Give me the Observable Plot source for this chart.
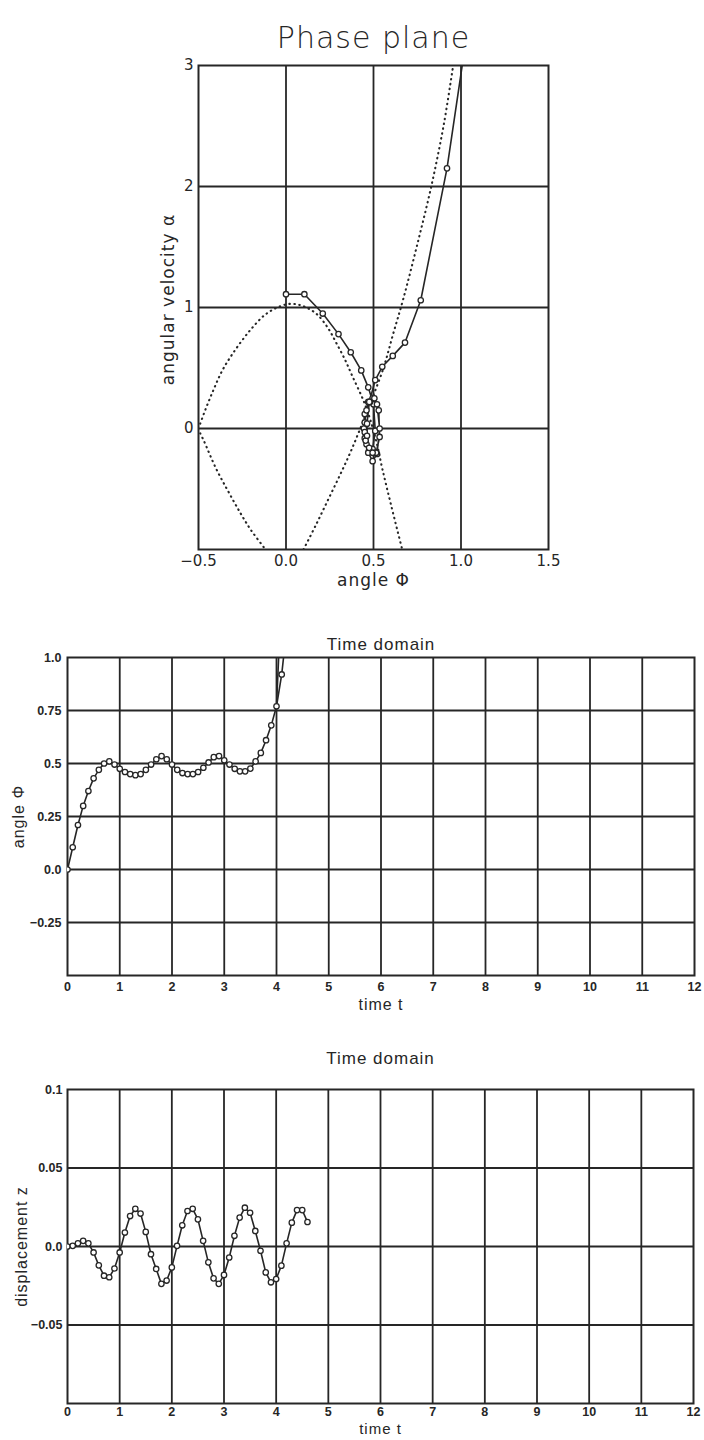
<!DOCTYPE html>
<html><head><meta charset="utf-8">
<script src="https://cdn.jsdelivr.net/npm/d3@7"></script>
<script src="https://cdn.jsdelivr.net/npm/@observablehq/plot@0.6"></script>
<style>
html,body{margin:0;padding:0;background:#fff;}
#page{position:relative;width:704px;height:1440px;overflow:hidden;background:#fff;}
.panel{position:absolute;left:0;}
svg g[aria-label="text"] text{letter-spacing:1px;}
</style></head><body><div id="page"></div>
<script>
// ---------- Phase plane ----------
const phaseXTicks = [-0.5, 0, 0.5, 1, 1.5];
const phaseXLabels = ["\u22120.5", "0.0", "0.5", "1.0", "1.5"];
const phaseYTicks = [0, 1, 2, 3];
const phaseYLabels = ["0", "1", "2", "3"];

// dotted curves
const sepAPhi   = [-0.49,-0.47,-0.42,-0.36,-0.28,-0.2,-0.12,-0.05,0.02,0.08,0.13,0.18,0.24,0.29,0.34,0.38,0.44,0.48,0.52,0.55,0.6,0.664];
const sepAAlpha = [0.04,0.12,0.3,0.49,0.67,0.82,0.94,1.0,1.03,1.02,0.99,0.94,0.83,0.7,0.56,0.43,0.24,0.08,-0.13,-0.33,-0.63,-1.0];
const sepBPhi   = [-0.49,-0.47,-0.4,-0.33,-0.26,-0.2,-0.117];
const sepBAlpha = [-0.04,-0.1,-0.33,-0.52,-0.7,-0.84,-1.0];
const sepCPhi   = [0.1,0.17,0.24,0.31,0.37,0.43,0.49,0.557,0.61,0.67,0.75,0.83,0.9,0.95,0.96];
const sepCAlpha = [-1.0,-0.8,-0.59,-0.38,-0.19,0.02,0.24,0.5,0.77,1.07,1.52,2.0,2.5,2.95,3.05];

// ---------- Time domain: angle ----------
const timeA = [0,0.1,0.2,0.3,0.4,0.5,0.6,0.7,0.8,0.9,1.0,1.1,1.2,1.3,1.4,1.5,1.6,1.7,1.8,1.9,2.0,2.1,2.2,2.3,2.4,2.5,2.6,2.7,2.8,2.9,3.0,3.1,3.2,3.3,3.4,3.5,3.6,3.7,3.8,3.9,4.0,4.1,4.2];
const phi   = [0,0.105,0.21,0.30,0.37,0.43,0.47,0.50,0.51,0.495,0.475,0.46,0.45,0.445,0.45,0.47,0.495,0.52,0.535,0.52,0.495,0.47,0.455,0.45,0.45,0.46,0.48,0.505,0.53,0.535,0.515,0.495,0.475,0.463,0.463,0.476,0.51,0.55,0.61,0.68,0.77,0.92,1.15];
const alpha = [1.11,1.11,0.95,0.78,0.63,0.48,0.34,0.2,-0.02,-0.17,-0.18,-0.13,-0.08,0.0,0.12,0.22,0.25,0.2,0.0,-0.21,-0.27,-0.2,-0.1,-0.03,0.05,0.15,0.22,0.25,0.15,-0.07,-0.2,-0.2,-0.16,-0.06,0.04,0.22,0.4,0.51,0.6,0.71,1.06,2.15,4.4];
const branchT   = [4.0, 4.05];
const branchPhi = [0.77, 1.05];

const timeXTicks = [0,1,2,3,4,5,6,7,8,9,10,11,12];
const angleYTicks = [-0.25, 0, 0.25, 0.5, 0.75, 1.0];
const angleYLabels = ["\u22120.25", "0.0", "0.25", "0.5", "0.75", "1.0"];

// ---------- Time domain: displacement ----------
const timeZ = [0,0.1,0.2,0.3,0.4,0.5,0.6,0.7,0.8,0.9,1.0,1.1,1.2,1.3,1.4,1.5,1.6,1.7,1.8,1.9,2.0,2.1,2.2,2.3,2.4,2.5,2.6,2.7,2.8,2.9,3.0,3.1,3.2,3.3,3.4,3.5,3.6,3.7,3.8,3.9,4.0,4.1,4.2,4.3,4.4,4.5,4.6];
const zVals = [0,0.0004,0.002,0.0036,0.002,-0.0038,-0.012,-0.0186,-0.0196,-0.014,-0.0038,0.0089,0.0194,0.024,0.021,0.0093,-0.0049,-0.0143,-0.0238,-0.0217,-0.0133,0.0004,0.0135,0.0226,0.024,0.0173,0.0036,-0.0101,-0.0203,-0.0238,-0.0181,-0.007,0.0068,0.0184,0.0247,0.0215,0.0099,-0.0027,-0.0165,-0.0228,-0.0207,-0.0122,0.002,0.0152,0.0232,0.0232,0.0156];
const dispYTicks = [-0.05, 0, 0.05, 0.1];
const dispYLabels = ["\u22120.05", "0.0", "0.05", "0.1"];

// ---------- build tables ----------
const zip2 = (a, b) => a.map((v, i) => ({x: v, y: b[i]}));
const sepA = zip2(sepAPhi, sepAAlpha);
const sepB = zip2(sepBPhi, sepBAlpha);
const sepC = zip2(sepCPhi, sepCAlpha);
const traj = zip2(phi, alpha);
const angleSeries = zip2(timeA, phi);
const branch = zip2(branchT, branchPhi);
const dispSeries = zip2(timeZ, zVals);
const fmtMap = (ticks, labels) => { const m = new Map(ticks.map((t, i) => [t, labels[i]])); return d => m.get(d); };

const ink = "#262626";
const gridOpt = {stroke: ink, strokeOpacity: 1, strokeWidth: 1.8};
const dotted = {x: "x", y: "y", stroke: ink, strokeWidth: 2.1, strokeDasharray: "0.5 4.5", strokeLinecap: "round", curve: "catmull-rom", clip: true};
const solid = {x: "x", y: "y", stroke: ink, strokeWidth: 1.6, clip: true};
const markers = {x: "x", y: "y", r: 2.7, fill: "white", stroke: ink, strokeWidth: 1.3, clip: true};

const page = document.getElementById("page");
function place(svg, top) {
  const d = document.createElement("div");
  d.className = "panel"; d.style.top = top + "px";
  d.appendChild(svg); page.appendChild(d);
}

// Chart 1
const p1 = Plot.plot({
  width: 704, height: 600,
  marginTop: 65, marginBottom: 51, marginLeft: 198, marginRight: 156,
  x: {domain: [-0.5, 1.5], label: null},
  y: {domain: [-1, 3], label: null},
  style: {fontFamily: "DejaVu Sans", fontSize: "15px", color: ink, background: "transparent"},
  marks: [
    Plot.gridX([0, 0.5, 1], gridOpt),
    Plot.gridY([0, 1, 2], gridOpt),
    Plot.frame({stroke: ink, strokeWidth: 2}),
    Plot.line(sepA, dotted),
    Plot.line(sepB, dotted),
    Plot.line(sepC, dotted),
    Plot.line(traj, solid),
    Plot.dot(traj, markers),
    Plot.axisX(phaseXTicks, {tickSize: 0, tickPadding: 6, tickFormat: fmtMap(phaseXTicks, phaseXLabels), label: null, fill: ink}),
    Plot.axisY(phaseYTicks, {tickSize: 0, tickPadding: 5, tickFormat: fmtMap(phaseYTicks, phaseYLabels), label: null, fill: ink}),
    Plot.text(["Phase plane"], {text: d => d, frameAnchor: "top", dy: -39, fontSize: 30, fontWeight: 300, fill: ink}),
    Plot.text(["angle \u03A6"], {text: d => d, frameAnchor: "bottom", dy: 36, fontSize: 17, fill: ink}),
    Plot.text(["angular velocity \u03B1"], {text: d => d, frameAnchor: "left", dx: -30, dy: -8, rotate: -90, textAnchor: "middle", fontSize: 17, fill: ink})
  ]
});
place(p1, 0);

// Chart 2
const p2 = Plot.plot({
  width: 704, height: 400,
  marginTop: 37, marginBottom: 45, marginLeft: 67, marginRight: 10,
  x: {domain: [0, 12], label: null},
  y: {domain: [-0.5, 1], label: null},
  style: {fontFamily: "Liberation Sans", fontSize: "12.5px", fontWeight: "bold", color: ink, background: "transparent"},
  marks: [
    Plot.gridX([1,2,3,4,5,6,7,8,9,10,11], gridOpt),
    Plot.gridY([-0.25, 0, 0.25, 0.5, 0.75], gridOpt),
    Plot.frame({stroke: ink, strokeWidth: 2}),
    Plot.line(branch, solid),
    Plot.line(angleSeries, solid),
    Plot.dot(angleSeries, markers),
    Plot.axisX(timeXTicks, {tickSize: 0, tickPadding: 7, tickFormat: d => String(d), label: null, fill: ink}),
    Plot.axisY(angleYTicks, {tickSize: 0, tickPadding: 6, tickFormat: fmtMap(angleYTicks, angleYLabels), label: null, fill: ink}),
    Plot.text(["Time domain"], {text: d => d, frameAnchor: "top", dy: -20, fontSize: 17, fontWeight: "normal", fill: ink}),
    Plot.text(["time t"], {text: d => d, frameAnchor: "bottom", dy: 34, fontSize: 16, fontWeight: "normal", fill: ink}),
    Plot.text(["angle \u03A6"], {text: d => d, frameAnchor: "left", dx: -49, rotate: -90, textAnchor: "middle", fontSize: 16, fontWeight: "normal", fill: ink})
  ]
});
place(p2, 620);

// Chart 3
const p3 = Plot.plot({
  width: 704, height: 400,
  marginTop: 49, marginBottom: 37, marginLeft: 67, marginRight: 11,
  x: {domain: [0, 12], label: null},
  y: {domain: [-0.1, 0.1], label: null},
  style: {fontFamily: "Liberation Sans", fontSize: "12.5px", fontWeight: "bold", color: ink, background: "transparent"},
  marks: [
    Plot.gridX([1,2,3,4,5,6,7,8,9,10,11], gridOpt),
    Plot.gridY([-0.05, 0, 0.05], gridOpt),
    Plot.frame({stroke: ink, strokeWidth: 2}),
    Plot.line(dispSeries, solid),
    Plot.dot(dispSeries, markers),
    Plot.axisX(timeXTicks, {tickSize: 0, tickPadding: 4, tickFormat: d => String(d), label: null, fill: ink}),
    Plot.axisY(dispYTicks, {tickSize: 0, tickPadding: 5, tickFormat: fmtMap(dispYTicks, dispYLabels), label: null, fill: ink}),
    Plot.text(["Time domain"], {text: d => d, frameAnchor: "top", dy: -38, fontSize: 17, fontWeight: "normal", fill: ink}),
    Plot.text(["time t"], {text: d => d, frameAnchor: "bottom", dy: 30, fontSize: 15, fontWeight: "normal", fill: ink}),
    Plot.text(["displacement z"], {text: d => d, frameAnchor: "left", dx: -46, rotate: -90, textAnchor: "middle", fontSize: 16, fontWeight: "normal", fill: ink})
  ]
});
place(p3, 1040);
</script></body></html>
